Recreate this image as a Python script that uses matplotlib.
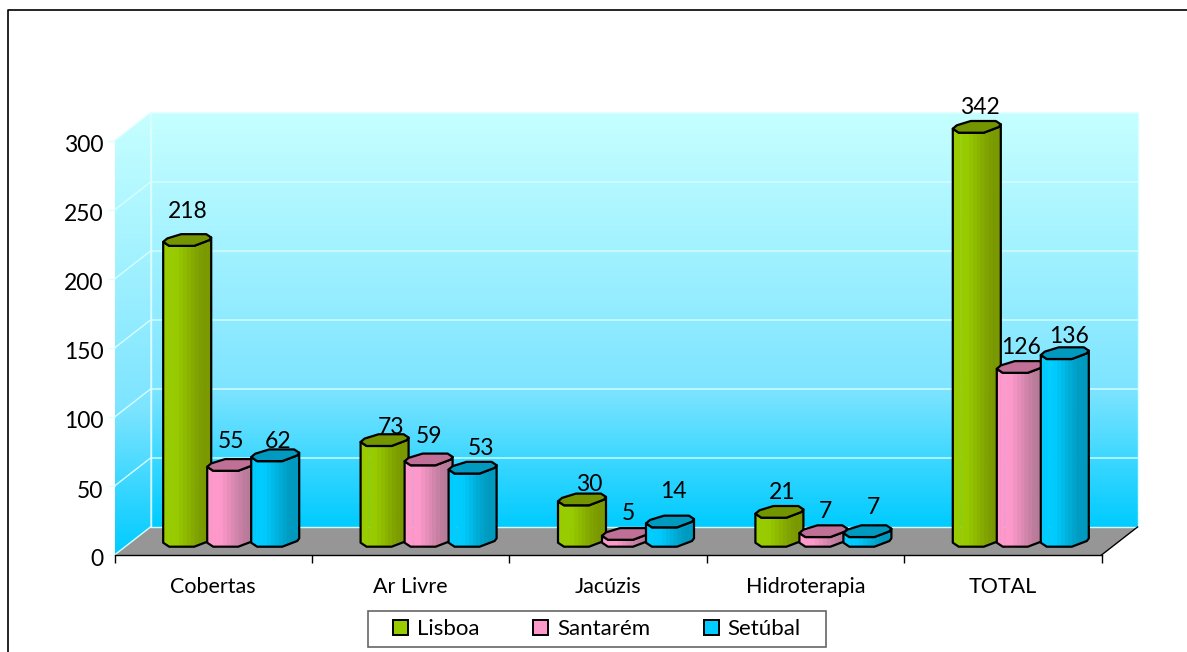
import numpy as np
import matplotlib
matplotlib.use('Agg')
import matplotlib.pyplot as plt
from matplotlib.patches import Polygon, Rectangle, Patch
from matplotlib.colors import LinearSegmentedColormap, to_rgb
from matplotlib.transforms import ScaledTranslation
from matplotlib.lines import Line2D

plt.rcParams['font.family'] = ['Lato', 'DejaVu Sans']

categories = ['Cobertas', 'Ar Livre', 'Jacúzis', 'Hidroterapia', 'TOTAL']
lisboa = [218, 73, 30, 21, 342]
santarem = [55, 59, 5, 7, 126]
setubal = [62, 53, 14, 7, 136]
series_names = ['Lisboa', 'Santarém', 'Setúbal']
y_ticks = [0, 50, 100, 150, 200, 250, 300]

W, H = 1187, 652
LEFT, RIGHT, BOTTOM, TOP = 114.5, 1101.5, 555, 141   # front plane, in pixels
DEPTH_X, DEPTH_Y = 36, 28                            # 3d depth, in pixels

colors = {'Lisboa': ('#99CC00', '#7A9900', '#739600'),
          'Santarém': ('#FF99CC', '#B87A99', '#C07096'),
          'Setúbal': ('#00CCFF', '#0099BF', '#0099C0')}

# data label shifts from the bar top, pixels (hand placed in the original)
label_dx = [[1, 6, 7, 3, 3], [0, 0, 2, 2, 0], [3, 8, 3, 6, 4]]
label_dy = [[29, 13, 15, 20, 20], [24, 23, 21, 20, 20], [14, 19, 30, 24, 17]]

fig = plt.figure(figsize=(W / 100, H / 100), dpi=100)
ax = fig.add_axes([LEFT / W, 1 - BOTTOM / H, (RIGHT - LEFT) / W, (BOTTOM - TOP) / H])
ax.set_xlim(0, 5)
ax.set_ylim(0, 300)
ax.patch.set_visible(False)

px_x = 5 / (RIGHT - LEFT)
px_y = 300 / (BOTTOM - TOP)
dx = DEPTH_X * px_x
dy = DEPTH_Y * px_y
wall_top = 300 + dy

wall_cmap = LinearSegmentedColormap.from_list(
    'wall', [(0, '#C6FFFF'), (0.67, '#7DE4FF'), (0.93, '#19D0FF'), (1, '#00CCFF')])
grad = np.linspace(0, 1, 256).reshape(-1, 1)

# back wall
ax.imshow(grad, cmap=wall_cmap, aspect='auto', zorder=1, clip_on=False,
          extent=(dx, 5 + dx, dy, wall_top))
# side wall, same gradient but cut to the parallelogram
side = Polygon([(0, 0), (dx, dy), (dx, wall_top), (0, 300)], closed=True,
               transform=ax.transData, fill=False, edgecolor='none')
ax.add_patch(side)
side.set_clip_on(False)
im = ax.imshow(grad, cmap=wall_cmap, aspect='auto', zorder=1,
               extent=(0, dx, 0, wall_top))
im.set_clip_path(side)
im.set_clip_box(fig.bbox)
ax.set_xlim(0, 5)
ax.set_ylim(0, 300)

grid_col = '#D8FFFF'
for t in y_ticks[1:]:
    ax.plot([0, dx, 5 + dx], [t, t + dy, t + dy], color=grid_col, lw=1, zorder=2, clip_on=False)
ax.plot([dx, dx], [dy, wall_top], color=grid_col, lw=1, zorder=2, clip_on=False)
ax.plot([5 + dx, 5 + dx], [dy, wall_top], color=grid_col, lw=1, zorder=2, clip_on=False)

# floor
ax.add_patch(Polygon([(0, 0), (5, 0), (5 + dx, dy), (dx, dy)], closed=True, facecolor='#969696',
                     edgecolor='none', zorder=3, clip_on=False))
ax.plot([0, dx], [0, dy], color='#D8FFFF', lw=1, zorder=3, clip_on=False)
ax.plot([dx, 5 + dx], [dy, dy], color='#D8FFFF', lw=1, zorder=3, clip_on=False)
ax.plot([5, 5 + dx], [0, dy], color='black', lw=1, zorder=3, clip_on=False)

# octagon section of the cylinders, pixels from the centre (y up)
top_shape = np.array([(-24, -1.7), (-20, 1.7), (-6, 6), (19, 6), (24, 2.7),
                      (22, 0), (7, -5.7), (-18, -5.7)])
front_x = np.array([-24, -18, 7, 22, 24])
front_y = np.array([-1.7, -5.7, -5.7, 0, 2.7])
strip_x = np.linspace(-24, 24, 13)


def draw_bar(center, value, name, z):
    light, dark, cap = colors[name]
    light, dark = np.array(to_rgb(light)), np.array(to_rgb(dark))
    base = 14 * px_y
    top = min(value, 300) + base
    off = np.interp(strip_x, front_x, front_y)
    for k in range(len(strip_x) - 1):
        frac = np.clip((k / (len(strip_x) - 2) - 0.25) / 0.6, 0, 1)
        col = light + (dark - light) * frac
        xs = center + strip_x[[k, k + 1, k + 1, k]] * px_x
        ys = np.array([base + off[k] * px_y, base + off[k + 1] * px_y,
                       top + off[k + 1] * px_y, top + off[k] * px_y])
        ax.fill(xs, ys, facecolor=col, edgecolor=col, lw=0.6, zorder=z, clip_on=False)
    outline_x = np.concatenate([front_x, front_x[::-1]])
    outline_y = np.concatenate([front_y * px_y + base, front_y[::-1] * px_y + top])
    ax.add_patch(Polygon(np.column_stack([center + outline_x * px_x, outline_y]), closed=True,
                         fill=False, edgecolor='black', lw=1.6, joinstyle='round', zorder=z + 0.1,
                         clip_on=False))
    ax.add_patch(Polygon(np.column_stack([center + top_shape[:, 0] * px_x,
                                          top + top_shape[:, 1] * px_y]), closed=True,
                         facecolor=cap, edgecolor='black', lw=1.6, joinstyle='round',
                         zorder=z + 0.2, clip_on=False))
    return top


all_series = [lisboa, santarem, setubal]
for c in range(len(categories)):
    for s, name in enumerate(series_names):
        center = c + 0.5 + (18 + (s - 1) * 44) * px_x
        v = all_series[s][c]
        top = draw_bar(center, v, name, 5 + c + s * 0.3)
        ax.annotate(str(v), (center, top), xytext=(label_dx[s][c] * 0.72, label_dy[s][c] * 0.72),
                    textcoords='offset points', ha='center', va='center', fontsize=16.5,
                    color='black', zorder=20, annotation_clip=False)

# axes
for sp in ['top', 'right', 'left']:
    ax.spines[sp].set_visible(False)
ax.spines['bottom'].set_linewidth(1)
ax.spines['bottom'].set_zorder(4)
ax.set_yticks(y_ticks)
ax.tick_params(axis='y', length=5, color='#D8FFFF', labelsize=16.5, pad=3)
ax.set_xticks(range(6))
ax.set_xticklabels([])
ax.set_xticks(np.arange(5) + 0.5, categories, minor=True)
ax.tick_params(axis='x', which='major', length=6, width=1, color='black')
ax.tick_params(axis='x', which='minor', length=0, labelsize=15.5, pad=16)
shift = ScaledTranslation(0, -3 / 100, fig.dpi_scale_trans)
for lab in ax.get_yticklabels():
    lab.set_transform(lab.get_transform() + shift)

# legend box is drawn apart so its padding can match the original
fig.add_artist(Rectangle((368 / W, 1 - 647 / H), (826 - 368) / W, 36 / H, facecolor='white',
                         edgecolor='#666666', lw=1.2, transform=fig.transFigure))
handles = [Patch(facecolor=colors[n][0], edgecolor='black', lw=1.4, label=n) for n in series_names]
leg = fig.legend(handles=handles, loc='center', bbox_to_anchor=(597 / W, 1 - 629 / H), ncol=3,
                 frameon=False, fontsize=16, handlelength=0.68, handleheight=0.68,
                 columnspacing=2.4, handletextpad=0.4, borderpad=0, borderaxespad=0)

# outer frame: only the top and left edges are inside the picture
fig.add_artist(Line2D([7.5 / W, 7.5 / W, 1], [0, 1 - 9.5 / H, 1 - 9.5 / H], color='black', lw=1.2,
                      transform=fig.transFigure))

fig.savefig('out.png', dpi=100)
